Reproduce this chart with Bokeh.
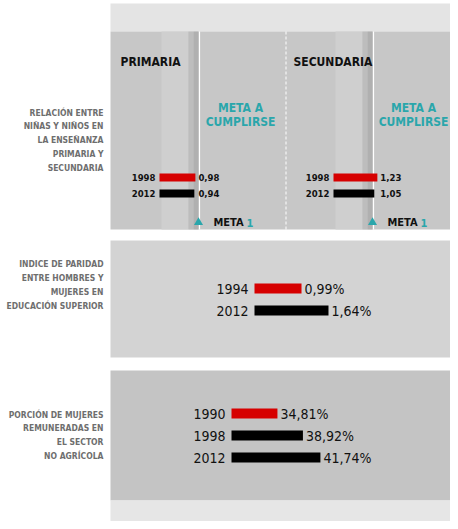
from bokeh.plotting import figure
from bokeh.models import Range1d, ColumnDataSource
from bokeh.core.properties import value
from bokeh.embed import file_html
from bokeh.resources import INLINE

# ---------------- data ----------------
p1_groups = ["PRIMARIA", "SECUNDARIA"]
p1_years = ["1998", "2012"]
p1_primaria = [0.98, 0.94]
p1_secundaria = [1.23, 1.05]
p1_labels_primaria = ["0,98", "0,94"]
p1_labels_secundaria = ["1,23", "1,05"]

p2_years = ["1994", "2012"]
p2_values = [0.99, 1.64]
p2_labels = ["0,99%", "1,64%"]

p3_years = ["1990", "1998", "2012"]
p3_values = [34.81, 38.92, 41.74]
p3_labels = ["34,81%", "38,92%", "41,74%"]

label1 = ["RELACIÓN ENTRE", "NIÑAS Y NIÑOS EN", "LA ENSEÑANZA", "PRIMARIA Y", "SECUNDARIA"]
label2 = ["INDICE DE PARIDAD", "ENTRE HOMBRES Y", "MUJERES EN", "EDUCACIÓN SUPERIOR"]
label3 = ["PORCIÓN DE MUJERES", "REMUNERADAS EN", "EL SECTOR", "NO AGRÍCOLA"]

# ---------------- style ----------------
FONT = value("DejaVu Sans Condensed")
RED = "#d60000"
BLACK = "#000000"
TEAL = "#2aa6ab"
GRAYTXT = "#6e6e6e"
bar_colors2 = [RED, BLACK]
bar_colors3 = [RED, BLACK, BLACK]

p = figure(width=450, height=521, x_range=Range1d(0, 450), y_range=Range1d(521, 0),
           output_backend="svg", toolbar_location=None, min_border=0)
p.axis.visible = False
p.grid.visible = False
p.outline_line_color = None
p.background_fill_color = "white"
p.border_fill_color = "white"

X0, X1 = 110, 460
# backgrounds
p.quad(left=X0, right=X1, top=3, bottom=31, fill_color="#e4e4e4", line_color=None)
p.quad(left=X0, right=X1, top=31, bottom=229, fill_color="#c7c7c7", line_color=None)
p.quad(left=X0, right=X1, top=240, bottom=357, fill_color="#d3d3d3", line_color=None)
p.quad(left=X0, right=X1, top=370, bottom=500, fill_color="#c4c4c4", line_color=None)
p.quad(left=X0, right=X1, top=500, bottom=526, fill_color="#e6e6e6", line_color=None)

# goal columns in panel 1
for meta_x in (199, 373):
    p.quad(left=meta_x - 38, right=meta_x - 11, top=31, bottom=229, fill_color="#cfcfcf", line_color=None)
    p.quad(left=meta_x - 11, right=meta_x - 6, top=31, bottom=229, fill_color="#bdbdbd", line_color=None)
    p.quad(left=meta_x - 6, right=meta_x - 1, top=31, bottom=229, fill_color="#b0b0b0", line_color=None)
    p.segment(x0=meta_x, x1=meta_x, y0=31, y1=229, line_color="white", line_width=1.2)
p.segment(x0=285.5, x1=285.5, y0=31, y1=229, line_color="white", line_width=1, line_dash="3 2")

# left labels
def left_label(lines, y0, dy):
    src = ColumnDataSource(dict(x=[103] * len(lines), y=[y0 + i * dy for i in range(len(lines))], t=lines))
    p.text(x="x", y="y", text="t", source=src, text_font=FONT, text_font_style="bold",
           text_font_size="8.5px", text_color=GRAYTXT, text_align="right", text_baseline="middle")

left_label(label1, 112, 13.8)
left_label(label2, 263, 14.3)
left_label(label3, 414, 13.8)

# panel 1 headings
p.text(x=[120, 293], y=[61, 61], text=p1_groups, text_font=FONT, text_font_style="bold",
       text_font_size="12px", text_color="#111111", text_baseline="middle")
for cx in (240, 413):
    p.text(x=[cx, cx], y=[107, 121], text=["META A", "CUMPLIRSE"], text_font=FONT, text_font_style="bold",
           text_font_size="12px", text_color=TEAL, text_align="center", text_baseline="middle")

# panel 1 bars
def small_bars(vals, labs, xstart, ys, k, v0):
    right = [xstart + k * (v - v0) for v in vals]
    lab_x = max(right) + 3
    src = ColumnDataSource(dict(y=ys, left=[xstart] * len(vals), right=right, c=bar_colors2[:len(vals)],
                                yr=p1_years, lab=labs, lx=[lab_x] * len(vals), yx=[xstart - 4] * len(vals)))
    p.hbar(y="y", left="left", right="right", height=8, fill_color="c", line_color=None, source=src)
    p.text(x="yx", y="y", text="yr", source=src, text_font=FONT, text_font_style="bold", text_font_size="9.5px",
           text_color="#111111", text_align="right", text_baseline="middle")
    p.text(x="lx", y="y", text="lab", source=src, text_font=FONT, text_font_style="bold", text_font_size="9.5px",
           text_color="#111111", text_align="left", text_baseline="middle")

small_bars(p1_primaria, p1_labels_primaria, 159, [177, 193], 26.0, -0.4)
small_bars(p1_secundaria, p1_labels_secundaria, 333, [177, 193], 17.0, -1.35)

# META 1 markers
p.scatter(x=[198, 372], y=[222, 222], marker="triangle", size=9, fill_color=TEAL, line_color=None)
p.text(x=[213, 387], y=[222, 222], text=["META", "META"], text_font=FONT, text_font_style="bold",
       text_font_size="11px", text_color="#111111", text_baseline="middle")
p.text(x=[246, 420], y=[222, 222], text=["1", "1"], text_font=FONT, text_font_style="bold",
       text_font_size="11px", text_color=TEAL, text_baseline="middle")

# big bars (panels 2 and 3)
def big_bars(years, vals, labs, colors, xstart, ys, k, v0):
    right = [xstart + k * (v - v0) for v in vals]
    src = ColumnDataSource(dict(y=ys, left=[xstart] * len(vals), right=right, c=colors,
                                yr=years, lab=labs, lx=[r + 3 for r in right], yx=[xstart - 6] * len(vals)))
    p.hbar(y="y", left="left", right="right", height=10, fill_color="c", line_color=None, source=src)
    p.text(x="yx", y="y", text="yr", source=src, text_font=FONT, text_font_size="14px",
           text_color="#111111", text_align="right", text_baseline="middle")
    p.text(x="lx", y="y", text="lab", source=src, text_font=FONT, text_font_size="14px",
           text_color="#111111", text_align="left", text_baseline="middle")

big_bars(p2_years, p2_values, p2_labels, bar_colors2, 254, [288, 310], 41.5, -0.143)
big_bars(p3_years, p3_values, p3_labels, bar_colors3, 231, [413, 435, 457], 6.2, 27.4)

open("out.html", "w").write(file_html(p, INLINE))
